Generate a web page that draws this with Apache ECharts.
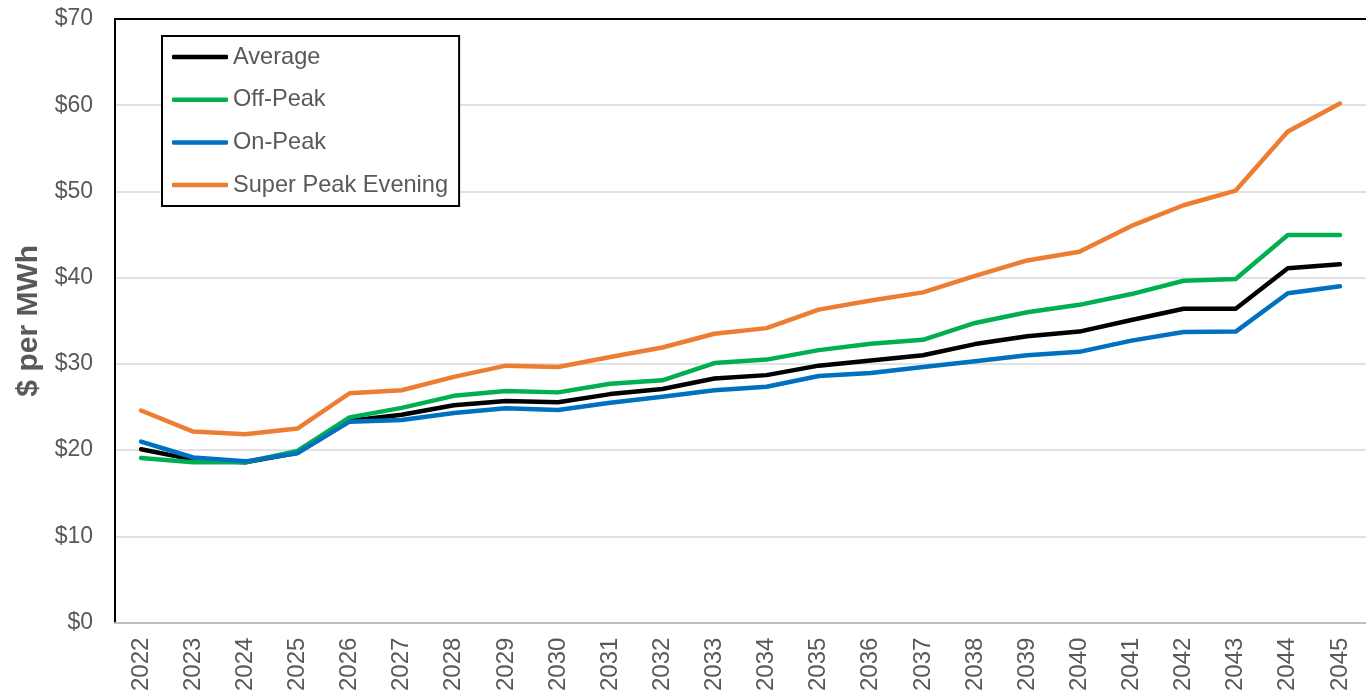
<!DOCTYPE html>
<html>
<head>
<meta charset="utf-8">
<script src="https://cdn.jsdelivr.net/npm/echarts@6/dist/echarts.min.js"></script>
<style>
html,body{margin:0;padding:0;background:#fff;}
#chart{width:1366px;height:694px;}
</style>
</head>
<body>
<div id="chart"></div>
<script>
const years = ['2022','2023','2024','2025','2026','2027','2028','2029','2030','2031','2032','2033','2034','2035','2036','2037','2038','2039','2040','2041','2042','2043','2044','2045'];
const average = [20.1, 18.9, 18.6, 19.7, 23.4, 24.1, 25.2, 25.7, 25.55, 26.5, 27.1, 28.3, 28.7, 29.8, 30.4, 31.0, 32.3, 33.2, 33.75, 35.1, 36.4, 36.4, 41.1, 41.55];
const offPeak = [19.1, 18.6, 18.6, 19.9, 23.8, 24.9, 26.3, 26.85, 26.7, 27.7, 28.1, 30.1, 30.5, 31.6, 32.35, 32.8, 34.75, 36.0, 36.85, 38.1, 39.65, 39.85, 44.95, 44.95];
const onPeak = [21.0, 19.15, 18.7, 19.65, 23.3, 23.5, 24.3, 24.85, 24.65, 25.5, 26.2, 26.95, 27.35, 28.6, 28.95, 29.65, 30.3, 31.0, 31.4, 32.7, 33.7, 33.75, 38.2, 39.0];
const superPeak = [24.6, 22.15, 21.85, 22.5, 26.6, 26.95, 28.5, 29.8, 29.65, 30.8, 31.9, 33.5, 34.15, 36.3, 37.35, 38.3, 40.2, 42.0, 43.0, 46.0, 48.4, 50.1, 56.95, 60.2];
const seriesNames = ['Average', 'Off-Peak', 'On-Peak', 'Super Peak Evening'];
const yTicks = [0, 10, 20, 30, 40, 50, 60, 70];

const FONT = "'Liberation Sans', Arial, sans-serif";
const colors = ['#000000', '#00B050', '#0070C0', '#ED7D31'];
const dataSets = [average, offPeak, onPeak, superPeak];

const chart = echarts.init(document.getElementById('chart'), null, {renderer: 'canvas'});
chart.setOption({
  animation: false,
  textStyle: {fontFamily: FONT},
  grid: {left: 115, right: -15, top: 19, bottom: 69, containLabel: false},
  legend: {
    left: 162, top: 36, orient: 'vertical',
    padding: [7, 11, 7, 10],
    borderColor: '#000', borderWidth: 2,
    backgroundColor: '#fff',
    icon: 'roundRect', itemWidth: 56, itemHeight: 4.5, itemGap: 14.7, itemTextGap: 4,
    textStyle: {fontSize: 23.6, color: '#595959', fontFamily: FONT, lineHeight: 28},
    data: seriesNames
  },
  xAxis: [{
    type: 'category', data: years, boundaryGap: true, position: 'bottom',
    axisLine: {show: true, lineStyle: {color: '#bfbfbf', width: 2}},
    axisTick: {show: false},
    axisLabel: {rotate: 90, fontSize: 24, color: '#595959', margin: 15, fontFamily: FONT},
    splitLine: {show: false}
  }, {
    type: 'category', data: years, boundaryGap: true, position: 'top',
    axisLine: {show: true, lineStyle: {color: '#000', width: 2}},
    axisTick: {show: false}, axisLabel: {show: false}, splitLine: {show: false}
  }],
  yAxis: {
    type: 'value', min: yTicks[0], max: yTicks[yTicks.length - 1], interval: 10,
    name: '$ per MWh', nameLocation: 'middle', nameGap: 68,
    nameTextStyle: {fontSize: 30, fontWeight: 'bold', color: '#595959', fontFamily: FONT},
    axisLine: {show: true, lineStyle: {color: '#000', width: 2}},
    axisTick: {show: false},
    axisLabel: {formatter: v => '$' + v, fontSize: 23, color: '#595959', margin: 22, fontFamily: FONT},
    splitLine: {show: true, lineStyle: {color: '#d9d9d9', width: 1.5}}
  },
  series: seriesNames.map((n, i) => ({
    name: n, type: 'line', data: dataSets[i], symbol: 'none', smooth: false,
    color: colors[i],
    lineStyle: {color: colors[i], width: 4.5, cap: 'round', join: 'round'},
    itemStyle: {color: colors[i]}
  }))
});
</script>
</body>
</html>
